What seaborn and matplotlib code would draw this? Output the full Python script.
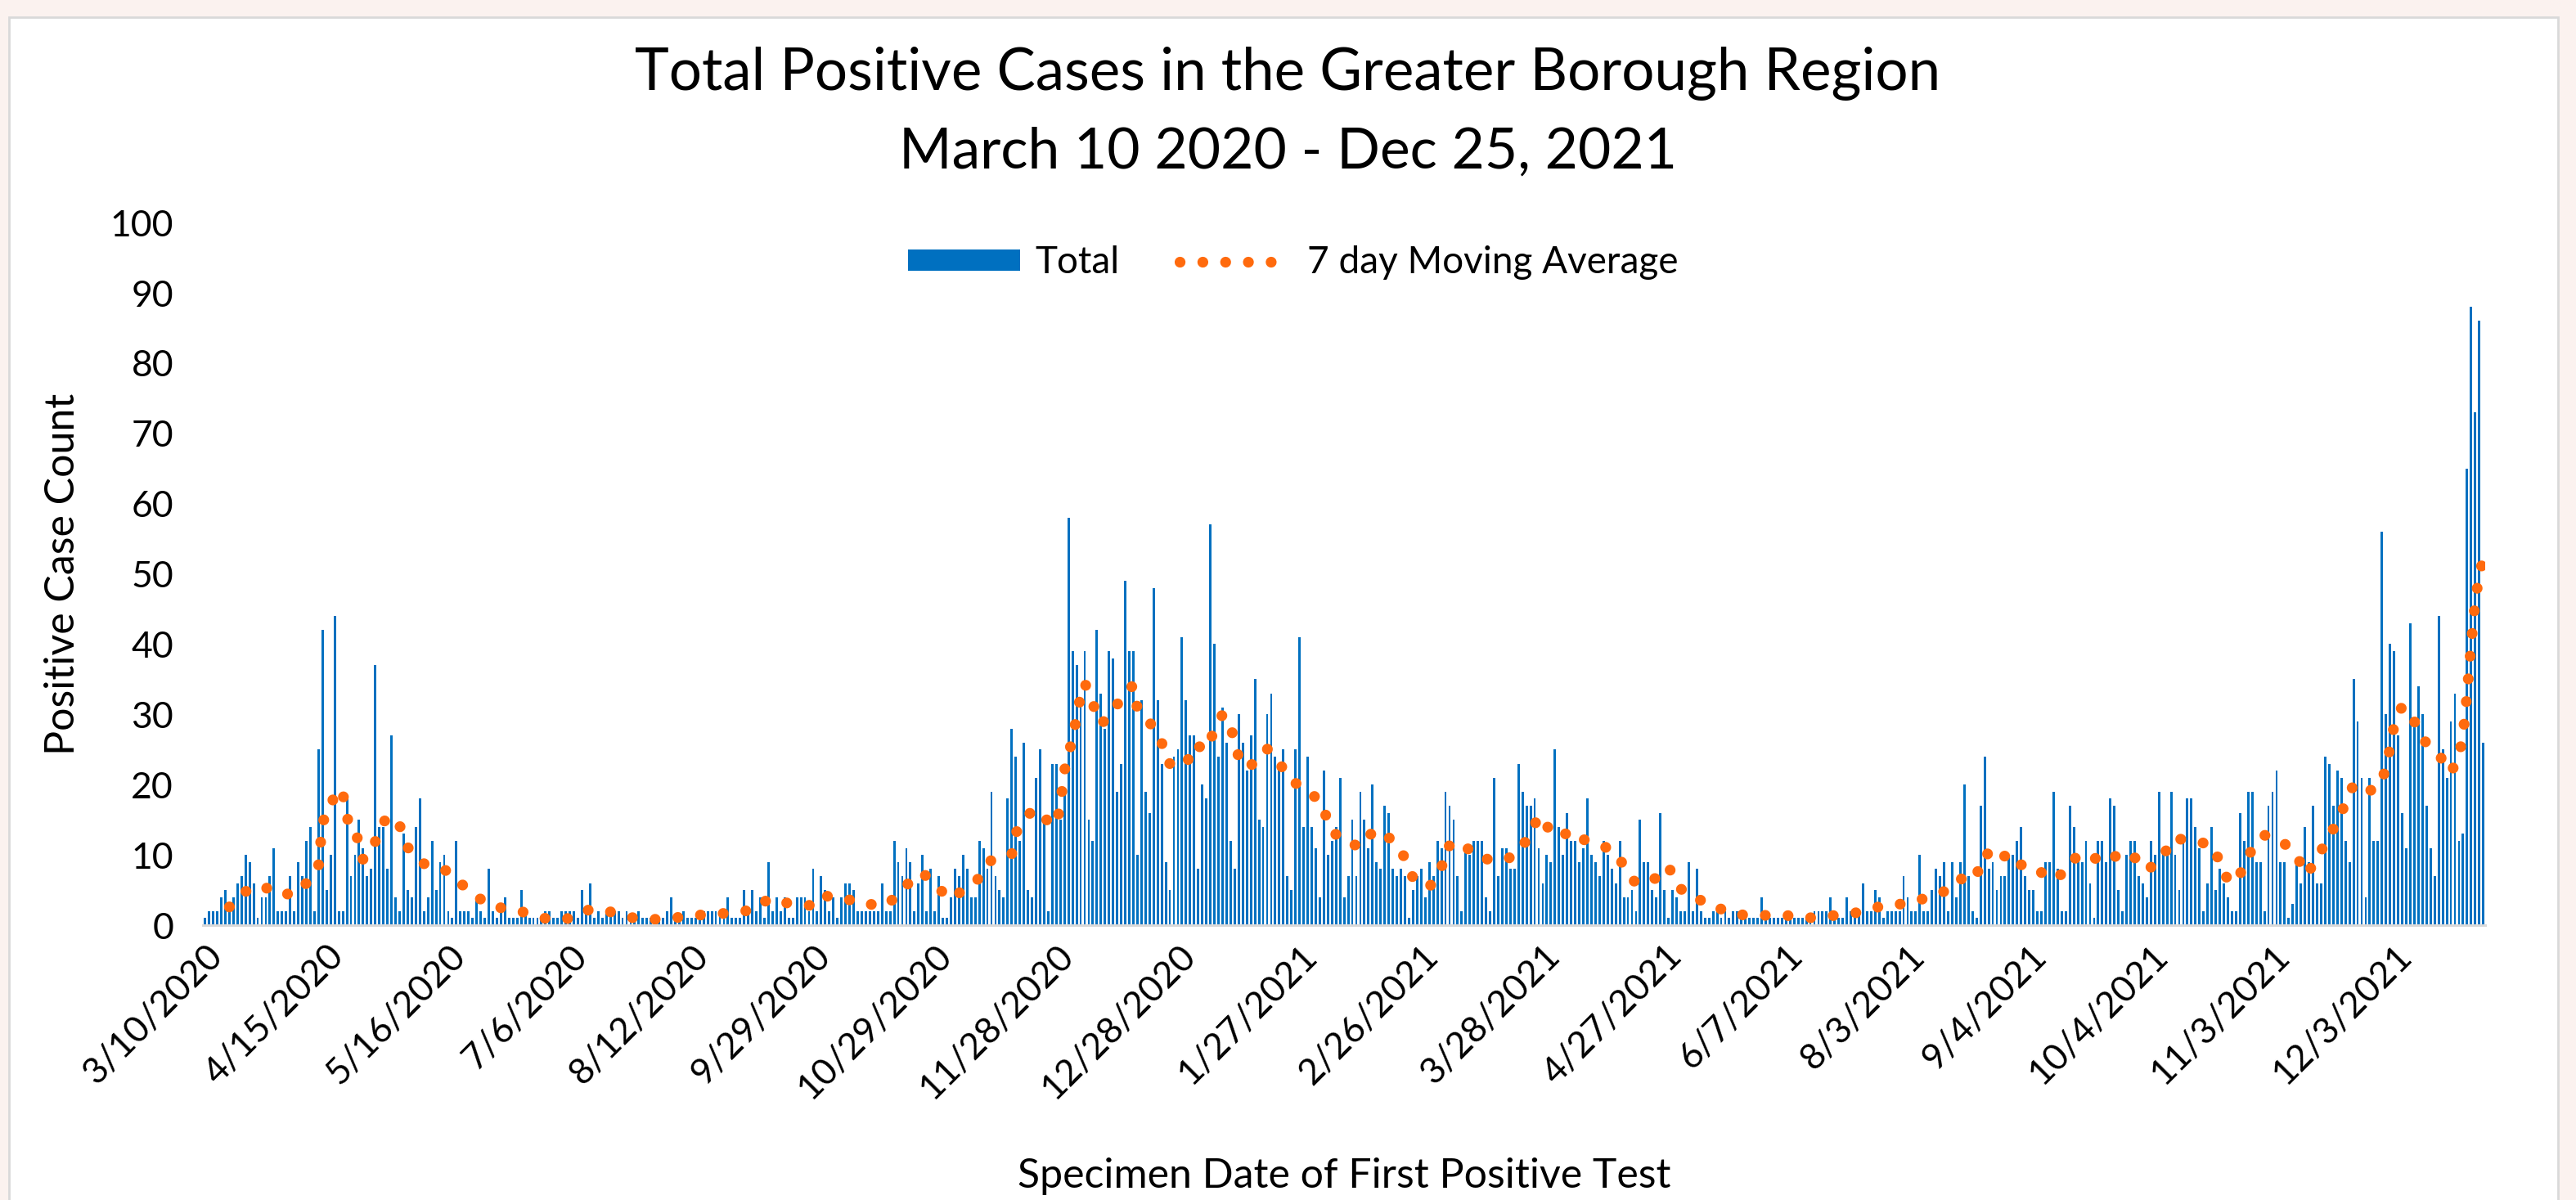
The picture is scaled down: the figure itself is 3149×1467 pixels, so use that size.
import numpy as np
import pandas as pd
import seaborn as sns
import matplotlib.pyplot as plt
from matplotlib.patches import Patch, Rectangle
from matplotlib.lines import Line2D

# Daily positive cases, one value per reported date (dates with cases only),
# read off the chart in ten chunks, left to right
cases_p1 = [1, 2, 2, 2, 4, 5, 2, 4, 6, 7, 10, 9, 6, 1, 4, 4, 7, 11, 2, 2, 2, 7, 2, 9, 7, 12, 14, 2, 25, 42,
            5, 10, 44, 2, 2, 18, 7, 10, 15, 11, 7, 8, 37, 14, 14, 8, 27, 4, 2, 13, 5, 4, 14, 18, 2, 4]
cases_p2 = [12, 5, 9, 10, 2, 1, 12, 2, 2, 2, 1, 4, 2, 1, 8, 2, 1, 2, 4, 1, 1, 1, 5, 2, 1, 1, 1, 1, 2, 2,
            1, 1, 2, 2, 2, 2, 1, 5, 2, 6, 1, 2, 1, 2, 2, 2, 2, 1, 2, 1, 1, 2, 1, 1, 1, 1]
cases_p3 = [1, 1, 2, 4, 1, 1, 2, 1, 1, 1, 1, 2, 2, 2, 2, 2, 1, 4, 1, 1, 1, 5, 2, 5, 2, 4, 1, 9, 2, 4,
            2, 4, 1, 1, 4, 4, 4, 2, 8, 2, 7, 5, 2, 4, 1, 4, 6, 6, 5, 2, 2, 2, 2, 2, 2, 6, 2]
cases_p4 = [2, 12, 9, 7, 11, 9, 2, 6, 10, 2, 8, 2, 7, 1, 1, 4, 8, 7, 10, 8, 4, 4, 12, 11, 8, 19, 7, 5, 4, 18,
            28, 24, 12, 26, 5, 4, 21, 25, 15, 2, 23, 23, 15, 19, 58, 39, 37, 32, 39, 15, 12, 42, 33, 28, 39, 38, 19, 23]
cases_p5 = [49, 39, 39, 10, 32, 19, 16, 48, 32, 23, 9, 5, 24, 25, 41, 32, 27, 27, 8, 20, 18, 57, 40, 24, 31, 26, 12, 8, 30, 26,
            22, 27, 35, 15, 14, 30, 33, 24, 23, 25, 7, 5, 25, 41, 14, 24, 14, 11, 4, 22, 10, 12, 14, 21, 4, 7]
cases_p6 = [15, 7, 19, 15, 11, 20, 9, 8, 17, 16, 8, 7, 8, 7, 1, 5, 7, 8, 4, 9, 7, 12, 11, 19, 17, 15, 7, 2, 11, 10,
            12, 12, 12, 4, 2, 21, 7, 11, 11, 8, 8, 23, 19, 17, 17, 18, 11, 6, 10, 9, 25, 14, 10, 16, 12]
cases_p7 = [12, 9, 11, 18, 10, 9, 7, 12, 10, 8, 6, 12, 4, 4, 5, 2, 15, 9, 9, 5, 4, 16, 5, 1, 5, 4, 2, 2, 9, 2,
            8, 2, 1, 1, 2, 2, 1, 2, 1, 2, 2, 1, 2, 1, 1, 1, 4, 1, 1, 1, 1, 1, 1, 1, 1, 1, 1]
cases_p8 = [1, 1, 2, 2, 2, 2, 4, 1, 1, 1, 4, 2, 1, 2, 6, 2, 2, 5, 4, 1, 2, 2, 2, 2, 7, 4, 2, 2, 10, 2,
            2, 5, 8, 7, 9, 2, 9, 4, 9, 20, 7, 2, 1, 17, 24, 8, 9, 5, 7, 7, 10, 10, 12, 14, 7, 5]
cases_p9 = [5, 2, 2, 9, 9, 19, 8, 2, 2, 17, 14, 10, 9, 12, 6, 1, 12, 12, 9, 18, 17, 5, 2, 10, 12, 12, 7, 6, 4, 12,
            10, 19, 11, 11, 19, 10, 5, 12, 18, 18, 14, 11, 2, 6, 14, 5, 8, 6, 4, 2, 2, 16, 12, 19, 19, 9, 9, 2]
cases_p10 = [17, 19, 22, 9, 9, 1, 3, 9, 6, 14, 9, 17, 6, 6, 24, 23, 17, 22, 21, 12, 9, 35, 29, 21, 4, 21, 12, 12, 56, 30,
             40, 39, 27, 16, 11, 43, 29, 34, 30, 17, 11, 7, 44, 25, 21, 29, 33, 12, 13, 65, 88, 73, 86, 26]

# every 30th reported date gets a label
tick_labels = ['3/10/2020', '4/15/2020', '5/16/2020', '7/6/2020', '8/12/2020', '9/29/2020',
               '10/29/2020', '11/28/2020', '12/28/2020', '1/27/2021', '2/26/2021', '3/28/2021',
               '4/27/2021', '6/7/2021', '8/3/2021', '9/4/2021', '10/4/2021', '11/3/2021', '12/3/2021']

# 7 day moving average, read at sampled categories
ma_pos_a = [6, 10, 14, 18, 23, 25, 28, 29, 31, 32, 34, 35, 36, 38, 39, 42, 44, 46, 48, 50, 52, 55,
            60, 62, 65, 68, 71, 76, 80, 85, 91, 95, 100, 105, 110,
            115, 121, 126, 131, 136, 139, 144, 149, 152, 157, 161, 166, 169,
            173, 177, 180, 184, 187, 191, 194, 199, 200, 202, 204, 207, 210, 211, 212, 214, 215, 216, 217, 219, 221, 224,
            227, 229, 230, 233, 236, 237, 239, 242, 244, 247, 249, 251, 253, 254, 256, 259, 262, 265, 268, 270,
            273, 276, 277, 279, 282]
ma_val_a = [2.6, 4.8, 5.7, 4.3, 4.6, 6.0, 8.5, 14.8, 16.1, 19.3, 18.7, 15.6, 12.9, 12.3, 9.3, 11.9, 14.7, 15.6, 14.2, 11.1, 9.5, 8.4,
            7.7, 6.7, 4.8, 3.7, 2.6, 2.3, 1.6, 0.8, 1.0, 2.3, 1.9, 1.1, 0.8,
            1.0, 1.4, 1.6, 1.8, 2.3, 3.8, 3.1, 2.8, 4.4, 3.5, 3.7, 2.6, 3.3,
            5.7, 7.5, 5.7, 3.7, 5.0, 6.7, 9.3, 10.1, 13.2, 14.3, 16.5, 15.2, 14.2, 17.2, 22.0, 26.6, 29.6, 32.7, 34.5, 31.5, 28.6, 30.4,
            33.3, 34.1, 30.8, 28.9, 26.0, 23.3, 22.7, 22.8, 25.8, 24.9, 27.8, 30.0, 28.6, 25.5, 22.5, 23.0, 25.1, 23.1, 20.4, 20.0,
            18.7, 17.0, 14.0, 12.9, 11.5]
ma_pos_b = [286, 288, 290, 293, 296, 298, 302, 305, 306, 310, 313, 317, 321, 325, 327, 330, 332, 335, 338,
            340, 344, 348, 350, 353, 358, 361, 363, 367, 371, 375, 380, 385, 390, 395,
            400, 405, 410, 415, 420, 424, 429, 432, 435, 438, 440, 442, 446, 448, 451,
            455, 459, 462, 465, 469, 473, 477, 479, 483, 485, 489, 492, 496, 497, 500, 503, 505, 508,
            510, 512, 516, 518, 521, 523, 526, 528, 530, 533, 536, 538, 539, 540, 542, 545, 547, 551, 554, 556,
            557, 558, 559, 560, 561, 562]
ma_val_b = [11.3, 13.4, 13.4, 12.0, 9.6, 6.7, 5.4, 8.1, 11.1, 11.9, 9.9, 9.3, 9.3, 10.9, 13.9, 15.6, 12.9, 12.9, 13.4,
            12.2, 11.5, 10.4, 8.4, 5.9, 6.7, 8.4, 5.7, 3.7, 3.4, 1.9, 1.4, 1.4, 1.4, 1.0,
            1.3, 1.5, 2.1, 3.0, 3.0, 3.8, 4.8, 5.5, 8.1, 7.5, 10.6, 9.5, 10.2, 8.6, 8.5,
            6.5, 7.5, 10.1, 9.8, 8.9, 10.5, 9.3, 7.8, 9.6, 12.3, 12.2, 11.9, 11.0, 8.0, 5.9, 8.1, 11.0, 12.8,
            12.6, 12.1, 10.0, 7.2, 9.1, 11.9, 14.6, 17.4, 20.0, 19.0, 19.5, 22.2, 25.3, 28.4, 31.2, 29.0, 26.5, 24.3, 21.7, 24.1,
            27.1, 33.0, 40.0, 46.0, 50.0, 52.0]

cases = (cases_p1 + cases_p2 + cases_p3 + cases_p4 + cases_p5 +
         cases_p6 + cases_p7 + cases_p8 + cases_p9 + cases_p10)
df = pd.DataFrame({'day': np.arange(len(cases)), 'total': cases})
df_ma = pd.DataFrame({'day': ma_pos_a + ma_pos_b, 'avg': ma_val_a + ma_val_b})

blue = '#0070C0'
orange = '#FF6A0D'
dotted = (0, (0.01, 2.1))

sns.set_theme(style='white')
plt.rcParams['font.family'] = ['Lato', 'DejaVu Sans']

fig = plt.figure(figsize=(31.49, 14.67), dpi=100, facecolor='#FBF2EF')
# white chart panel with a thin grey border, kept behind the axes
fig.patches.append(Rectangle((0.0035, -0.01), 0.9895, 0.996, transform=fig.transFigure,
                             facecolor='white', edgecolor='#D9D9D9', lw=2, zorder=-10))

ax = fig.add_axes([0.0788, 0.229, 0.886, 0.5855])
ax.set_zorder(1)
ax.set_facecolor('none')

sns.barplot(data=df, x='day', y='total', color=blue, saturation=1, width=0.58,
            linewidth=0, errorbar=None, ax=ax)
sns.lineplot(data=df_ma, x='day', y='avg', color=orange, lw=9.5, linestyle=dotted,
             dash_capstyle='round', ax=ax)

ax.set_xlim(-0.5, len(cases) - 0.5)
ax.set_ylim(0, 100)
ax.set_yticks(range(0, 101, 10))
ax.set_xticks(range(0, len(cases), 30))
ax.set_xticklabels(tick_labels, rotation=45, ha='right', rotation_mode='anchor')
ax.tick_params(axis='both', length=0, labelsize=32, colors='black')
ax.tick_params(axis='y', pad=26)
ax.tick_params(axis='x', pad=12)

for side in ['top', 'right', 'left']:
    ax.spines[side].set_visible(False)
ax.spines['bottom'].set_color('#D9D9D9')
ax.spines['bottom'].set_linewidth(2.2)

ax.set_ylabel('Positive Case Count', fontsize=36, color='black')
ax.yaxis.set_label_coords(-0.053, 0.5)
ax.set_xlabel('Specimen Date of First Positive Test', fontsize=36, color='black')
ax.xaxis.set_label_coords(0.5, -0.33)

fig.text(0.5, 0.9387, 'Total Positive Cases in the Greater Borough Region',
         ha='center', va='center', fontsize=51, color='black')
fig.text(0.5, 0.873, 'March 10 2020 - Dec 25, 2021',
         ha='center', va='center', fontsize=50, color='black')

handles = [Patch(facecolor=blue, edgecolor='none'),
           Line2D([], [], color=orange, lw=9.5, linestyle=dotted, dash_capstyle='round')]
fig.legend(handles, ['Total', '7 day Moving Average'], loc='center',
           bbox_to_anchor=(0.502, 0.781), ncol=2, frameon=False, fontsize=33,
           labelcolor='black', handlelength=3.0, handleheight=0.5,
           handletextpad=0.4, columnspacing=1.6)

fig.savefig('out.png', dpi=100, facecolor=fig.get_facecolor())
